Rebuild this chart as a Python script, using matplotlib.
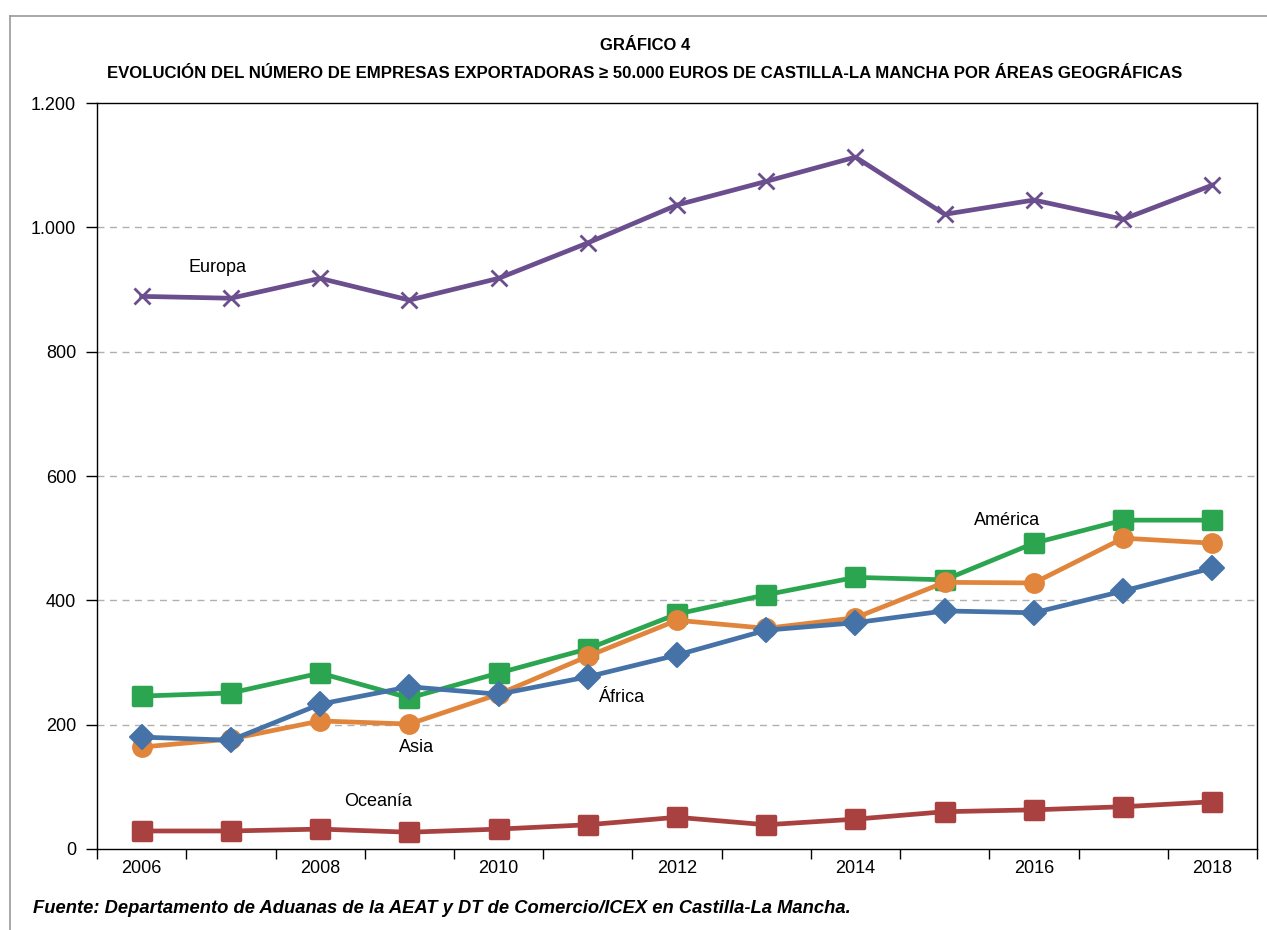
import numpy as np
import matplotlib
matplotlib.use('Agg')
import matplotlib.pyplot as plt
from matplotlib.ticker import FuncFormatter, FixedLocator
from matplotlib.lines import Line2D
from matplotlib.markers import MarkerStyle

plt.rcParams['font.family'] = ['Liberation Sans', 'DejaVu Sans']

# Data
years = list(range(2006, 2019))
europa = [889, 886, 918, 883, 918, 975, 1036, 1074, 1113, 1021, 1044, 1013, 1068]
america = [246, 251, 283, 243, 283, 322, 378, 409, 437, 433, 492, 529, 529]
asia = [164, 177, 206, 201, 249, 310, 368, 355, 372, 429, 428, 500, 492]
africa = [180, 175, 233, 261, 249, 277, 312, 352, 364, 383, 380, 415, 452]
oceania = [29, 29, 32, 27, 32, 39, 51, 39, 48, 60, 63, 68, 76]

series = [
    ('Europa', europa, '#6b4e8d', 'x'),
    ('América', america, '#2ba54f', 's'),
    ('Asia', asia, '#e0853b', 'o'),
    ('África', africa, '#4572a7', 'D'),
    ('Oceanía', oceania, '#a8413f', 's'),
]
# label anchor (category index, value)
label_pos = {'Europa': (0.85, 936), 'América': (9.7, 528), 'África': (5.37, 243),
             'Asia': (3.08, 164), 'Oceanía': (2.65, 76)}

fig = plt.figure(figsize=(12.67, 9.30), dpi=100)
ax = fig.add_axes([0.0766, 0.0871, 0.9155, 0.8021])

x = np.arange(len(years))
for name, vals, color, mk in series:
    if mk == 'x':
        ax.plot(x, vals, color=color, lw=3.4, marker='x', ms=11, mew=2.0, zorder=3)
    elif mk == 'D':
        ax.plot(x, vals, color=color, lw=3.4, marker=MarkerStyle('D', joinstyle='round'),
                ms=12.5, mew=1.5, zorder=4)
    else:
        ax.plot(x, vals, color=color, lw=3.4, marker=MarkerStyle(mk, joinstyle='round'),
                ms=12.5, mew=2.5, zorder=3)
    lx, ly = label_pos[name]
    ax.text(lx, ly, name, fontsize=13, ha='center', va='center', zorder=5)

ax.set_xlim(-0.5, len(years) - 0.5)
ax.set_ylim(0, 1200)
ax.set_yticks(np.arange(0, 1201, 200))
ax.yaxis.set_major_formatter(FuncFormatter(lambda v, p: f'{int(v):,}'.replace(',', '.')))
for yv in range(200, 1200, 200):
    ax.axhline(yv, color='#b0b0b0', lw=1, ls=(0, (5, 4)), zorder=1)

ax.xaxis.set_major_locator(FixedLocator(np.arange(-0.5, len(years), 1.0)))
ax.xaxis.set_major_formatter(FuncFormatter(lambda v, p: ''))
ax.xaxis.set_minor_locator(FixedLocator(x[::2]))
ax.set_xticklabels([str(y) for y in years[::2]], minor=True)
ax.tick_params(axis='x', which='major', length=7.5, width=1, direction='out')
ax.tick_params(axis='x', which='minor', length=0, pad=8, labelsize=13)
ax.tick_params(axis='y', length=8, width=1, labelsize=13, pad=7)
for s in ax.spines.values():
    s.set_linewidth(1)

fig.text(0.509, 0.951, 'GRÁFICO 4', ha='center', va='center', fontsize=12, fontweight='bold')
fig.text(0.509, 0.921, 'EVOLUCIÓN DEL NÚMERO DE EMPRESAS EXPORTADORAS \u2265 50.000 EUROS DE CASTILLA-LA MANCHA POR ÁREAS GEOGRÁFICAS',
         ha='center', va='center', fontsize=12.1, fontweight='bold')
fig.text(0.026, 0.0235, 'Fuente: Departamento de Aduanas de la AEAT y DT de Comercio/ICEX en Castilla-La Mancha.',
         ha='left', va='center', fontsize=13.2, fontweight='bold', style='italic')

# outer frame (open at right and bottom as in the crop)
fig.add_artist(Line2D([0.0079, 0.0079], [0.0, 0.983], transform=fig.transFigure, color='#999999', lw=1.2))
fig.add_artist(Line2D([0.0079, 1.0], [0.983, 0.983], transform=fig.transFigure, color='#999999', lw=1.2))

fig.savefig('out.png', dpi=100)
